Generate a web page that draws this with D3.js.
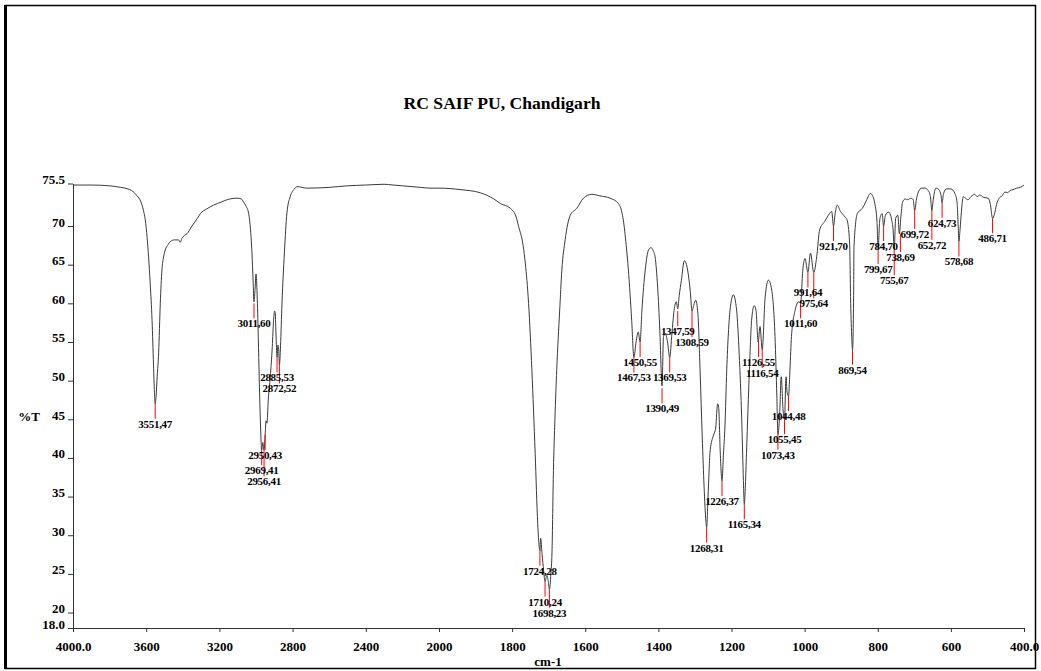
<!DOCTYPE html>
<html>
<head>
<meta charset="utf-8">
<script src="https://d3js.org/d3.v7.min.js"></script>
<style>
  body { margin: 0; background: #fff; }
  svg text { font-family: "Liberation Serif", "Times New Roman", serif; font-weight: bold; fill: #000; }
</style>
</head>
<body>
<div id="chart"></div>
<script>
// spectrum (cm-1 / %T)
var wavenumbers = [4000,3900,3800,3740,3700,3680,3650,3630,3615,3605,3595,3587,3578,3568,3560,3555,3551,3546,3540,3532,3523,3514,3505,3496,3480,3468,3445,3423,3414,3405,3390,3377,3350,3320,3304,3270,3232,3190,3158,3104,3080,3068,3055,3040,3030,3022,3016,3011,3006,3000,2996,2990,2985,2980,2975,2969,2963,2956,2950,2945,2940,2933,2922,2911,2904,2898,2895,2890,2885,2880,2876,2872,2866,2858,2845,2831,2813,2790,2776,2720,2600,2500,2400,2300,2250,2200,2100,2050,2000,1940,1887,1850,1832,1805,1790,1782,1770,1764,1755,1746,1737,1730,1726,1724,1722,1718,1714,1710,1705,1701,1698,1694,1691,1687,1683,1678,1670,1664,1655,1641,1623,1605,1582,1560,1532,1509,1500,1496,1488,1482,1473,1467,1461,1455,1450,1445,1436,1427,1420,1414,1409,1402,1396,1390,1386,1381,1375,1369,1363,1357,1351,1347,1343,1337,1329,1320,1313,1308,1303,1298,1292,1286,1280,1275,1270,1268,1265,1262,1259,1251,1247,1243,1238,1235,1231,1226,1222,1218,1213,1204,1195,1186,1179,1172,1168,1165,1162,1159,1151,1145,1138,1133,1127,1122,1116,1108,1099,1090,1081,1076,1073,1068,1064,1059,1055,1051,1048,1044,1040,1036,1026,1016,1011,1005,999,991,984,975,967,959,945,932,926,921,916,911,902,890,884,877,874,871,869,866,865,856,842,833,820,813,808,802,799,795,793,788,784,779,770,762,758,755,751,745,741,736,732,725,718,710,703,699,694,689,680,671,662,656,652,648,641,633,627,624,620,612,600,589,583,580,578,575,570,566,560,553,545,535,528,521,510,498,492,486,481,475,468,460,452,445,438,430,420,410,400];
var transmittance = [75.3,75.3,75.2,75.0,74.8,74.6,73.9,73.2,72.0,70.8,68.5,66.0,62.5,57.8,52.0,48.5,47.0,48.0,50.5,53.6,60.0,64.3,66.0,66.9,67.6,68.0,68.2,68.2,67.9,68.4,68.8,69.0,70.0,71.0,71.6,72.2,72.7,73.1,73.4,73.6,73.5,73.1,72.6,71.6,69.5,66.5,63.0,60.2,61.5,63.8,62.5,58.0,53.0,48.0,44.0,41.0,42.0,41.0,43.0,44.8,44.5,47.5,50.5,54.4,57.8,59.0,58.8,55.5,53.0,54.6,54.0,52.0,54.5,60.0,66.5,71.7,73.8,74.8,75.1,74.9,75.0,75.2,75.3,75.4,75.3,75.2,75.0,74.9,74.9,74.7,74.3,73.5,72.9,72.3,71.3,69.9,67.5,65.2,60.0,51.4,40.6,31.5,28.5,28.0,29.6,27.5,25.5,24.0,24.8,24.0,23.0,25.0,27.7,38.4,45.0,51.4,59.0,64.3,68.2,71.4,72.3,73.6,74.1,73.9,73.6,72.9,71.8,70.8,67.5,64.3,57.8,53.0,55.0,56.3,55.0,59.1,64.3,66.9,67.2,66.8,66.0,62.1,56.5,49.3,55.7,56.1,55.0,53.0,56.1,59.1,60.2,59.3,61.0,63.0,65.5,64.3,61.7,59.0,59.8,60.4,58.7,51.4,42.7,36.3,31.8,31.0,34.0,37.5,40.6,42.7,43.2,44.0,47.0,46.5,41.0,37.0,40.5,44.0,51.4,59.1,61.1,59.1,53.5,44.9,38.0,34.0,36.5,40.6,51.4,57.8,59.7,59.1,55.0,57.0,54.0,60.8,63.0,61.7,55.7,48.0,43.0,46.0,50.5,46.2,45.0,50.5,48.5,48.0,51.5,55.7,59.1,60.2,60.0,64.3,65.8,64.0,66.5,64.0,66.0,69.5,70.6,71.6,71.9,70.0,71.8,72.7,71.9,71.2,70.8,67.8,60.0,55.5,54.0,61.0,67.3,71.6,72.3,73.1,74.2,73.8,72.9,70.5,67.0,70.5,71.2,71.6,70.0,71.4,71.8,70.8,69.5,67.0,71.0,71.4,69.0,71.6,73.1,73.5,73.4,73.6,73.4,72.0,73.5,74.4,74.9,74.9,74.6,73.8,72.0,73.5,74.9,74.7,74.0,73.0,74.2,74.8,74.8,74.2,73.0,70.0,68.0,69.5,72.5,73.8,73.6,73.4,73.8,74.1,73.8,74.0,73.7,73.6,72.8,71.0,71.5,72.8,73.6,73.9,74.4,74.3,74.6,74.7,74.9,75.0,75.3];

// picked peaks (wavenumber, %T)
var peakWn = [3551,3011,2969,2956,2950,2885,2872,1724,1710,1698,1467,1450,1390,1369,1347,1308,1268,1226,1165,1126,1116,1073,1055,1044,1011,991,975,921,869,799,784,755,738,699,652,624,578,486];
var peakT  = [47,60,41,41,43,53,52,28,24,23,53,55,49,53,59,59,31,37,34,55,54,43,45,48,60,64,64,70,54,67,70,67,69,72,72,73,68,71];

var xTicks = [4000,3600,3200,2800,2400,2000,1800,1600,1400,1200,1000,800,600,400];
var yTicks = [75.5,70,65,60,55,50,45,40,35,30,25,20,18];

var W = 1041, H = 671;
var svg = d3.select("#chart").append("svg").attr("width", W).attr("height", H);
svg.append("rect").attr("width", W).attr("height", H).attr("fill", "#fff");

// frame
svg.append("rect").attr("x", 5.5).attr("y", 5.5).attr("width", 1030).attr("height", 663)
  .attr("fill", "none").attr("stroke", "#000").attr("stroke-width", 1.5);
svg.append("line").attr("x1", 5.5).attr("x2", 5.5).attr("y1", 5).attr("y2", 669)
  .attr("stroke", "#000").attr("stroke-width", 3);

// x scale changes at 2000 cm-1
var x = d3.scaleLinear().domain([4000, 2000, 400]).range([73, 439, 1024]);
var y = d3.scaleLinear().domain([18, 75.5]).range([628, 183.5]);

svg.append("text").attr("x", 502).attr("y", 109).attr("text-anchor", "middle")
  .style("font-size", "17px").attr("textLength", 197).attr("lengthAdjust", "spacingAndGlyphs")
  .text("RC SAIF PU, Chandigarh");

// axes
var xAxis = svg.append("g").attr("transform", "translate(0,628)")
  .call(d3.axisBottom(x).tickValues(xTicks).tickSize(4).tickSizeOuter(0)
    .tickFormat(function(d) { return (d == 4000 || d == 400) ? d.toFixed(1) : d; }));
xAxis.selectAll("path, line").attr("stroke", "#333");
xAxis.selectAll("text").attr("y", 0).attr("dy", "22.5px").style("font-size", "13px").attr("fill", "#000");

var yAxis = svg.append("g").attr("transform", "translate(73,0)")
  .call(d3.axisLeft(y).tickValues(yTicks).tickSize(5).tickSizeOuter(0)
    .tickFormat(function(d) { return d == 18 ? "18.0" : d; }));
yAxis.selectAll("path, line").attr("stroke", "#333");
yAxis.selectAll("text").attr("x", -8).attr("dy", "0px").style("font-size", "13px").attr("fill", "#000");

svg.append("text").attr("x", 29).attr("y", 421).attr("text-anchor", "middle")
  .style("font-size", "13px").text("%T");
svg.append("text").attr("x", 548).attr("y", 666).attr("text-anchor", "middle")
  .style("font-size", "13px").text("cm-1");

// spectrum
var line = d3.line()
  .x(function(d, i) { return x(wavenumbers[i]); })
  .y(function(d) { return y(d); })
  .curve(d3.curveMonotoneX);
svg.append("path").datum(transmittance).attr("d", line)
  .attr("fill", "none").attr("stroke", "#3a3a3a").attr("stroke-width", 1);

// peak labels, pushed down when they would overlap an earlier one
var gPeaks = svg.append("g");
var order = peakWn.map(function(d, i) { return i; })
  .sort(function(a, b) { return (peakT[b] - peakT[a]) || (peakWn[b] - peakWn[a]); });
var placed = [];
order.forEach(function(i) {
  var px = x(peakWn[i]), py = y(peakT[i]);
  var t = gPeaks.append("text").attr("x", px).attr("text-anchor", "middle")
    .style("font-size", "11px").style("letter-spacing", "-0.3px")
    .text(peakWn[i] + "," + peakT[i]);
  var w = t.node().getComputedTextLength();
  var ly = py + 20, moved = true;
  while (moved) {
    moved = false;
    placed.forEach(function(p) {
      if (Math.abs(px - p.x) < (w + p.w) / 2 && Math.abs(ly - p.y) < 10.5) { ly = p.y + 11; moved = true; }
    });
  }
  placed.push({x: px, y: ly, w: w});
  t.attr("y", ly + 4);
  gPeaks.insert("line", "text").attr("x1", px).attr("x2", px).attr("y1", py).attr("y2", ly - 5)
    .attr("stroke", "#f00").attr("stroke-width", 1);
});
</script>
</body>
</html>
